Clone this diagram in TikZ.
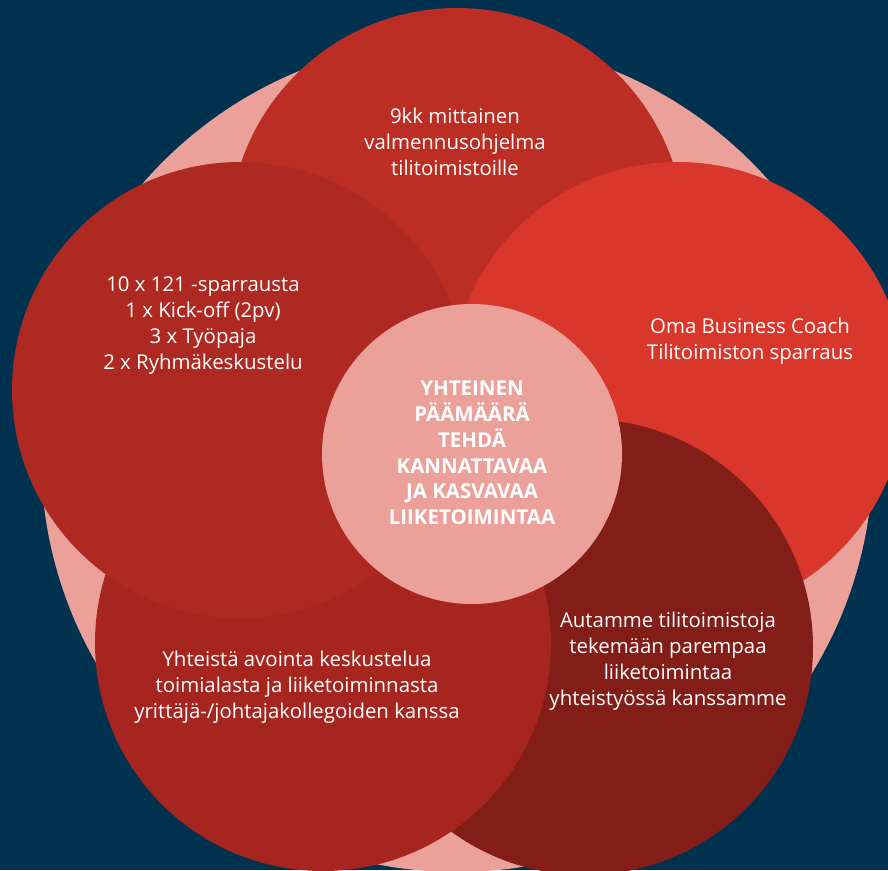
\documentclass[tikz,border=0pt]{standalone}
\usepackage{fontspec}
\setmainfont{Open Sans}
\definecolor{navy}{HTML}{00314F}
\definecolor{blush}{HTML}{EBA19A}
\definecolor{redtop}{HTML}{BC2E23}
\definecolor{redleft}{HTML}{AE2921}
\definecolor{redright}{HTML}{D9372B}
\definecolor{redlow}{HTML}{A6261F}
\definecolor{redwine}{HTML}{821D18}
\tikzset{
  disc/.style={circle, inner sep=0pt, minimum size=456pt},
  txt/.style={text=white, align=center, font=\fontsize{20.4}{26}\selectfont},
  goal/.style={text=white, align=center, font=\bfseries\fontsize{20.5}{25.7}\selectfont},
}
\begin{document}
\begin{tikzpicture}[x=1pt,y=-1pt]
\fill[navy] (0,0) rectangle (888,870);
\useasboundingbox (0,0) rectangle (888,870);
\begin{scope}
\clip (0,0) rectangle (888,870);
\node[disc, fill=blush, minimum size=832pt] (ring) at (457,456) {};
\node[disc, fill=redtop] (top) at (457,236) {};
\node[disc, fill=redright] (right) at (678,390) {};
\node[disc, fill=redwine] (lowright) at (585,647) {};
\node[disc, fill=redlow] (lowleft) at (323,643) {};
\node[disc, fill=redleft] (left) at (240,390) {};
\node[disc, fill=blush, minimum size=300pt] (core) at (472,454) {};
\end{scope}

\node[txt] (toptext) at (455,142) {9kk mittainen\\valmennusohjelma\\tilitoimistoille};
\node[txt] (lefttext) at (203,326) {10 x 121 -sparrausta\\1 x Kick-off (2pv)\\3 x Työpaja\\2 x Ryhmäkeskustelu};
\node[txt] (righttext) at (750,341) {Oma Business Coach\\Tilitoimiston sparraus};
\node[goal] (coretext) at (472,453) {YHTEINEN\\PÄÄMÄÄRÄ\\TEHDÄ\\KANNATTAVAA\\JA KASVAVAA\\LIIKETOIMINTAA};
\node[txt] (lowlefttext) at (297,687) {Yhteistä avointa keskustelua\\toimialasta ja liiketoiminnasta\\yrittäjä-/johtajakollegoiden kanssa};
\node[txt] (lowrighttext) at (668,661) {Autamme tilitoimistoja\\tekemään parempaa\\liiketoimintaa\\yhteistyössä kanssamme};
\end{tikzpicture}
\end{document}
